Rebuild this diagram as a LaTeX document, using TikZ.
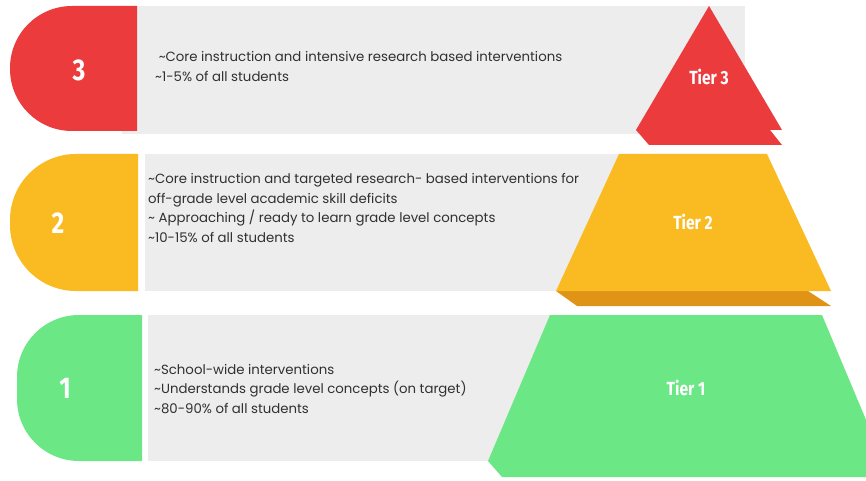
\documentclass[tikz,border=0pt]{standalone}
\usepackage{fontspec}
\setmainfont{Poppins}
\newfontfamily\tierfont[FakeStretch=0.82]{Fira Sans}
\newcommand{\tl}{\textasciitilde}
\definecolor{tierred}{HTML}{EB3B3D}
\definecolor{tieryellow}{HTML}{FABB22}
\definecolor{tierorange}{HTML}{E09417}
\definecolor{tiergreen}{HTML}{6BE785}
\definecolor{panelgray}{HTML}{EDEDED}
\definecolor{textgray}{HTML}{303030}
\begin{document}
\begin{tikzpicture}
    [x=1pt,y=-1pt,
     panel/.style={fill=panelgray},
     info/.style={anchor=west,align=left,inner sep=0pt,text=textgray,
       font=\fontsize{13.3}{19.4}\selectfont},
     num/.style={text=white,font=\tierfont\bfseries\fontsize{30}{30}\selectfont},
     tiername/.style={text=white,font=\tierfont\bfseries\fontsize{19}{19}\selectfont}]
    \useasboundingbox (0,0) rectangle (866,481);
    % tier 3
    \fill[panel] (122,6) rectangle (745,134);
    \fill[tierred] (137,6) [rounded corners=62pt] -- (10,6) -- (10,131)
      [sharp corners] -- (137,131) -- cycle;
    \fill[tierred] (636,130) -- (770,130) -- (782,145) -- (649,145) -- cycle;
    \fill[tierred] (709,6) -- (782,130) -- (636,130) -- cycle;
    \node[num] (n3) at (79,70) {3};
    \node[tiername] (t3) at (709,77) {Tier 3};
    \node[info] (i3) at (155,66.5)
      {\ \tl Core instruction and intensive research based interventions\\
       \tl 1-5\% of all students};
    % tier 2
    \fill[panel] (145,154) rectangle (745,291);
    \fill[tieryellow] (138,154) [rounded corners=66pt] -- (10,154) -- (10,291)
      [sharp corners] -- (138,291) -- cycle;
    \fill[tierorange] (556,291) -- (808,291) -- (831,306) -- (577,306) -- cycle;
    \fill[tieryellow] (619,154) -- (767,154) -- (831,291) -- (556,291) -- cycle;
    \node[num] (n2) at (58,223) {2};
    \node[tiername] (t2) at (693,222) {Tier 2};
    \node[info] (i2) at (148,208)
      {\tl Core instruction and targeted research- based interventions for\\
       off-grade level academic skill deficits\\
       \tl{} Approaching / ready to learn grade level concepts\\
       \tl 10-15\% of all students};
    % tier 1
    \fill[panel] (148,315) rectangle (745,461);
    \fill[tiergreen] (142,315) [rounded corners=62pt] -- (17,315) -- (17,461)
      [sharp corners] -- (142,461) -- cycle;
    \fill[tiergreen] (550,315) -- (822,315) -- (890,477) -- (502,477)
      -- (488,461) -- cycle;
    \node[num] (n1) at (65,388) {1};
    \node[tiername] (t1) at (686,388) {Tier 1};
    \node[info] (i1) at (154,389)
      {\tl School-wide interventions\\
       \tl Understands grade level concepts (on target)\\
       \tl 80-90\% of all students};
  \end{tikzpicture}
\end{document}
